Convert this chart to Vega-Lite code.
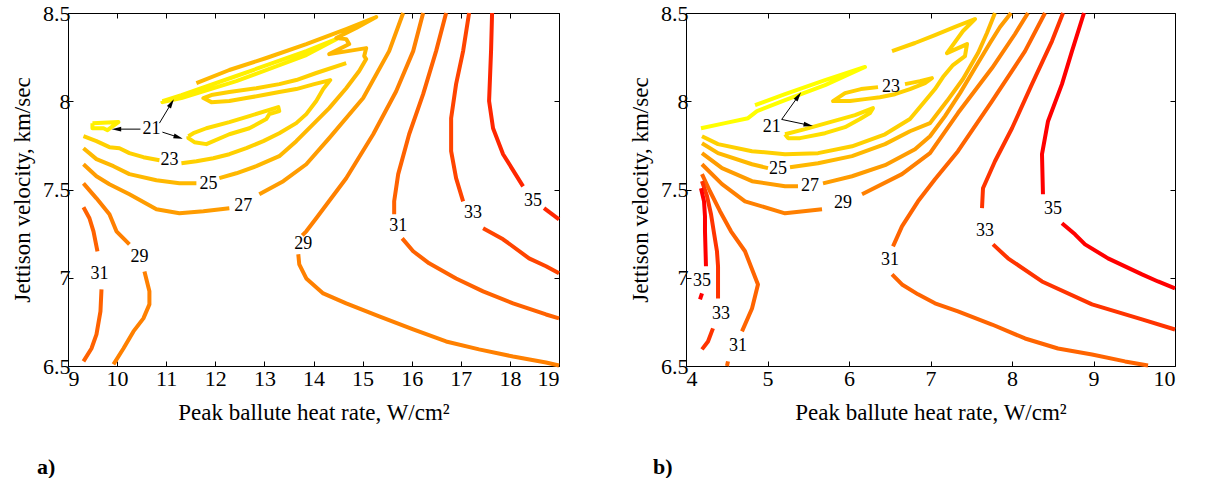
{
"$schema":"https://vega.github.io/schema/vega-lite/v6.json",
"background":"white",
"padding":{"left":11,"top":1,"right":0,"bottom":0},
"spacing":67,
"config":{
 "font":"Liberation Serif",
 "view":{"stroke":"black","strokeWidth":1},
 "axis":{"grid":false,"domain":false,"labelFont":"Liberation Serif","labelFontSize":22,"labelColor":"black","tickColor":"black","tickSize":-5,"tickWidth":1,"titleFont":"Liberation Serif","titleFontSize":23,"titleFontWeight":"normal","titleColor":"black"},
 "axisX":{"labelPadding":7.5,"titlePadding":12},
 "axisY":{"labelPadding":3,"titlePadding":8},
 "title":{"font":"Liberation Serif","fontSize":22,"fontWeight":"bold","color":"black"}
},
"datasets":{
"la":[
{"s":"a21s","l":21,"x":9.498,"y":7.876},{"s":"a21s","l":21,"x":10.027,"y":7.882},{"s":"a21s","l":21,"x":9.885,"y":7.853},{"s":"a21s","l":21,"x":9.804,"y":7.836},{"s":"a21s","l":21,"x":9.722,"y":7.847},{"s":"a21s","l":21,"x":9.498,"y":7.847},{"s":"a21s","l":21,"x":9.498,"y":7.876},
{"s":"a21l","l":21,"x":10.923,"y":8.001},{"s":"a21l","l":21,"x":11.31,"y":8.035},{"s":"a21l","l":21,"x":12.428,"y":8.143},{"s":"a21l","l":21,"x":13.853,"y":8.284},{"s":"a21l","l":21,"x":14.463,"y":8.352},{"s":"a21l","l":21,"x":13.853,"y":8.262},{"s":"a21l","l":21,"x":12.428,"y":8.114},{"s":"a21l","l":21,"x":11.31,"y":8.018},{"s":"a21l","l":21,"x":10.923,"y":7.995},{"s":"a21l","l":21,"x":10.923,"y":8.001},
{"s":"a22","l":22,"x":11.452,"y":7.802},{"s":"a22","l":22,"x":11.554,"y":7.819},{"s":"a22","l":22,"x":11.818,"y":7.847},{"s":"a22","l":22,"x":12.286,"y":7.882},{"s":"a22","l":22,"x":12.693,"y":7.916},{"s":"a22","l":22,"x":13.283,"y":7.967},{"s":"a22","l":22,"x":13.303,"y":7.944},{"s":"a22","l":22,"x":13.1,"y":7.927},{"s":"a22","l":22,"x":13.039,"y":7.899},{"s":"a22","l":22,"x":12.693,"y":7.847},{"s":"a22","l":22,"x":12.286,"y":7.813},{"s":"a22","l":22,"x":11.818,"y":7.757},{"s":"a22","l":22,"x":11.574,"y":7.768},{"s":"a22","l":22,"x":11.452,"y":7.791},{"s":"a22","l":22,"x":11.452,"y":7.802},
{"s":"a23a","l":23,"x":9.315,"y":7.802},{"s":"a23a","l":23,"x":9.58,"y":7.774},{"s":"a23a","l":23,"x":9.844,"y":7.74},{"s":"a23a","l":23,"x":10.048,"y":7.734},{"s":"a23a","l":23,"x":10.251,"y":7.706},{"s":"a23a","l":23,"x":10.536,"y":7.683},{"s":"a23a","l":23,"x":10.862,"y":7.666},
{"s":"a23b","l":23,"x":11.31,"y":7.649},{"s":"a23b","l":23,"x":11.615,"y":7.66},{"s":"a23b","l":23,"x":11.96,"y":7.677},{"s":"a23b","l":23,"x":12.286,"y":7.7},{"s":"a23b","l":23,"x":12.632,"y":7.734},{"s":"a23b","l":23,"x":12.978,"y":7.774},{"s":"a23b","l":23,"x":13.303,"y":7.819},{"s":"a23b","l":23,"x":13.649,"y":7.876},{"s":"a23b","l":23,"x":13.853,"y":7.927},{"s":"a23b","l":23,"x":14.056,"y":8.001},{"s":"a23b","l":23,"x":14.198,"y":8.069},{"s":"a23b","l":23,"x":14.34,"y":8.12},{"s":"a23b","l":23,"x":14.015,"y":8.097},{"s":"a23b","l":23,"x":13.649,"y":8.069},{"s":"a23b","l":23,"x":13.303,"y":8.052},{"s":"a23b","l":23,"x":12.978,"y":8.035},{"s":"a23b","l":23,"x":12.632,"y":8.018},{"s":"a23b","l":23,"x":12.286,"y":8.001},{"s":"a23b","l":23,"x":11.92,"y":7.995},{"s":"a23b","l":23,"x":11.757,"y":8.018},{"s":"a23b","l":23,"x":11.92,"y":8.035},{"s":"a23b","l":23,"x":12.286,"y":8.052},{"s":"a23b","l":23,"x":12.835,"y":8.074},{"s":"a23b","l":23,"x":13.303,"y":8.097},{"s":"a23b","l":23,"x":13.649,"y":8.12},{"s":"a23b","l":23,"x":14.056,"y":8.16},{"s":"a23b","l":23,"x":14.666,"y":8.216},
{"s":"a25a","l":25,"x":9.315,"y":7.734},{"s":"a25a","l":25,"x":9.58,"y":7.672},{"s":"a25a","l":25,"x":9.926,"y":7.632},{"s":"a25a","l":25,"x":10.251,"y":7.587},{"s":"a25a","l":25,"x":10.801,"y":7.552},{"s":"a25a","l":25,"x":11.269,"y":7.535},{"s":"a25a","l":25,"x":11.615,"y":7.535},
{"s":"a25b","l":25,"x":12.082,"y":7.564},{"s":"a25b","l":25,"x":12.428,"y":7.592},{"s":"a25b","l":25,"x":12.835,"y":7.632},{"s":"a25b","l":25,"x":13.303,"y":7.689},{"s":"a25b","l":25,"x":13.649,"y":7.774},{"s":"a25b","l":25,"x":13.995,"y":7.87},{"s":"a25b","l":25,"x":14.32,"y":7.961},{"s":"a25b","l":25,"x":14.666,"y":8.074},{"s":"a25b","l":25,"x":14.931,"y":8.171},{"s":"a25b","l":25,"x":15.073,"y":8.239},{"s":"a25b","l":25,"x":15.033,"y":8.256},{"s":"a25b","l":25,"x":15.073,"y":8.301},{"s":"a25b","l":25,"x":14.32,"y":8.267},{"s":"a25b","l":25,"x":14.727,"y":8.324},{"s":"a25b","l":25,"x":14.666,"y":8.352},{"s":"a25b","l":25,"x":14.463,"y":8.358},{"s":"a25b","l":25,"x":14.87,"y":8.415},{"s":"a25b","l":25,"x":15.277,"y":8.477},{"s":"a25b","l":25,"x":14.666,"y":8.409},{"s":"a25b","l":25,"x":13.853,"y":8.324},{"s":"a25b","l":25,"x":13.039,"y":8.245},{"s":"a25b","l":25,"x":12.286,"y":8.177},{"s":"a25b","l":25,"x":11.615,"y":8.103},
{"s":"a27a","l":27,"x":9.315,"y":7.643},{"s":"a27a","l":27,"x":9.58,"y":7.575},{"s":"a27a","l":27,"x":9.844,"y":7.53},{"s":"a27a","l":27,"x":10.251,"y":7.473},{"s":"a27a","l":27,"x":10.801,"y":7.388},{"s":"a27a","l":27,"x":11.269,"y":7.365},{"s":"a27a","l":27,"x":11.757,"y":7.377},{"s":"a27a","l":27,"x":12.286,"y":7.394},
{"s":"a27b","l":27,"x":12.896,"y":7.473},{"s":"a27b","l":27,"x":13.385,"y":7.547},{"s":"a27b","l":27,"x":13.853,"y":7.643},{"s":"a27b","l":27,"x":14.32,"y":7.791},{"s":"a27b","l":27,"x":15.012,"y":8.018},{"s":"a27b","l":27,"x":15.541,"y":8.284},{"s":"a27b","l":27,"x":15.826,"y":8.5},
{"s":"a29La","l":29,"x":9.315,"y":7.535},{"s":"a29La","l":29,"x":9.58,"y":7.45},{"s":"a29La","l":29,"x":9.844,"y":7.36},{"s":"a29La","l":29,"x":9.987,"y":7.263},{"s":"a29La","l":29,"x":10.251,"y":7.189},
{"s":"a29Lb","l":29,"x":10.557,"y":7.036},{"s":"a29Lb","l":29,"x":10.658,"y":6.923},{"s":"a29Lb","l":29,"x":10.658,"y":6.849},{"s":"a29Lb","l":29,"x":10.536,"y":6.77},{"s":"a29Lb","l":29,"x":10.333,"y":6.696},{"s":"a29Lb","l":29,"x":10.129,"y":6.599},{"s":"a29Lb","l":29,"x":9.926,"y":6.509},
{"s":"a31La","l":31,"x":9.315,"y":7.399},{"s":"a31La","l":31,"x":9.437,"y":7.337},{"s":"a31La","l":31,"x":9.519,"y":7.263},{"s":"a31La","l":31,"x":9.6,"y":7.15},
{"s":"a31Lb","l":31,"x":9.682,"y":6.934},{"s":"a31Lb","l":31,"x":9.661,"y":6.809},{"s":"a31Lb","l":31,"x":9.58,"y":6.679},{"s":"a31Lb","l":31,"x":9.478,"y":6.599},{"s":"a31Lb","l":31,"x":9.315,"y":6.526},
{"s":"a29Ra","l":29,"x":16.233,"y":8.5},{"s":"a29Ra","l":29,"x":16.03,"y":8.284},{"s":"a29Ra","l":29,"x":15.684,"y":8.057},{"s":"a29Ra","l":29,"x":15.216,"y":7.813},{"s":"a29Ra","l":29,"x":14.666,"y":7.564},{"s":"a29Ra","l":29,"x":14.056,"y":7.337},{"s":"a29Ra","l":29,"x":13.853,"y":7.263},{"s":"a29Ra","l":29,"x":13.771,"y":7.24},
{"s":"a29Rb","l":29,"x":13.69,"y":7.133},{"s":"a29Rb","l":29,"x":13.71,"y":7.076},{"s":"a29Rb","l":29,"x":13.853,"y":6.996},{"s":"a29Rb","l":29,"x":14.198,"y":6.911},{"s":"a29Rb","l":29,"x":14.666,"y":6.855},{"s":"a29Rb","l":29,"x":15.338,"y":6.781},{"s":"a29Rb","l":29,"x":16.03,"y":6.707},{"s":"a29Rb","l":29,"x":16.701,"y":6.639},{"s":"a29Rb","l":29,"x":17.372,"y":6.594},{"s":"a29Rb","l":29,"x":18.064,"y":6.554},{"s":"a29Rb","l":29,"x":18.736,"y":6.52},{"s":"a29Rb","l":29,"x":19.0,"y":6.503},
{"s":"a31Ra","l":31,"x":16.701,"y":8.5},{"s":"a31Ra","l":31,"x":16.497,"y":8.284},{"s":"a31Ra","l":31,"x":16.233,"y":8.04},{"s":"a31Ra","l":31,"x":15.948,"y":7.813},{"s":"a31Ra","l":31,"x":15.725,"y":7.587},{"s":"a31Ra","l":31,"x":15.643,"y":7.433},{"s":"a31Ra","l":31,"x":15.643,"y":7.36},
{"s":"a31Rb","l":31,"x":15.806,"y":7.223},{"s":"a31Rb","l":31,"x":16.03,"y":7.15},{"s":"a31Rb","l":31,"x":16.355,"y":7.082},{"s":"a31Rb","l":31,"x":16.904,"y":6.996},{"s":"a31Rb","l":31,"x":17.454,"y":6.923},{"s":"a31Rb","l":31,"x":18.064,"y":6.855},{"s":"a31Rb","l":31,"x":18.736,"y":6.792},{"s":"a31Rb","l":31,"x":19.0,"y":6.77},
{"s":"a33a","l":33,"x":17.169,"y":8.5},{"s":"a33a","l":33,"x":17.047,"y":8.284},{"s":"a33a","l":33,"x":16.904,"y":8.097},{"s":"a33a","l":33,"x":16.803,"y":7.904},{"s":"a33a","l":33,"x":16.803,"y":7.717},{"s":"a33a","l":33,"x":16.904,"y":7.564},{"s":"a33a","l":33,"x":17.047,"y":7.433},
{"s":"a33b","l":33,"x":17.454,"y":7.28},{"s":"a33b","l":33,"x":17.861,"y":7.218},{"s":"a33b","l":33,"x":18.39,"y":7.11},{"s":"a33b","l":33,"x":18.736,"y":7.065},{"s":"a33b","l":33,"x":19.0,"y":7.025},
{"s":"a35a","l":35,"x":17.637,"y":8.5},{"s":"a35a","l":35,"x":17.616,"y":8.284},{"s":"a35a","l":35,"x":17.576,"y":8.001},{"s":"a35a","l":35,"x":17.657,"y":7.847},{"s":"a35a","l":35,"x":17.861,"y":7.7},{"s":"a35a","l":35,"x":18.268,"y":7.518},
{"s":"a35b","l":35,"x":18.695,"y":7.394},{"s":"a35b","l":35,"x":19.0,"y":7.331}
],
"ta":[
{"x":10.699,"y":7.842,"t":"21"},{"x":11.065,"y":7.666,"t":"23"},{"x":11.859,"y":7.53,"t":"25"},{"x":12.571,"y":7.405,"t":"27"},{"x":10.455,"y":7.116,"t":"29"},{"x":9.641,"y":7.019,"t":"31"},{"x":13.791,"y":7.189,"t":"29"},{"x":15.725,"y":7.291,"t":"31"},{"x":17.25,"y":7.365,"t":"33"},{"x":18.471,"y":7.433,"t":"35"}
],
"aa":[
{"x":10.475,"y":7.842,"x2":9.987,"y2":7.842,"dir":270},{"x":10.862,"y":7.876,"x2":11.106,"y2":7.989,"dir":31},{"x":10.923,"y":7.825,"x2":11.248,"y2":7.796,"dir":107}
],
"lb":[
{"s":"b21","l":21,"x":4.184,"y":7.847},{"s":"b21","l":21,"x":4.479,"y":7.876},{"s":"b21","l":21,"x":4.761,"y":7.904},{"s":"b21","l":21,"x":4.871,"y":7.944},{"s":"b21","l":21,"x":5.215,"y":8.006},{"s":"b21","l":21,"x":5.706,"y":8.091},{"s":"b21","l":21,"x":6.196,"y":8.194},{"s":"b21","l":21,"x":5.706,"y":8.12},{"s":"b21","l":21,"x":5.215,"y":8.04},{"s":"b21","l":21,"x":4.847,"y":7.978},
{"s":"b22","l":22,"x":5.215,"y":7.813},{"s":"b22","l":22,"x":5.46,"y":7.842},{"s":"b22","l":22,"x":5.767,"y":7.882},{"s":"b22","l":22,"x":6.074,"y":7.921},{"s":"b22","l":22,"x":6.294,"y":7.961},{"s":"b22","l":22,"x":6.258,"y":7.933},{"s":"b22","l":22,"x":6.135,"y":7.899},{"s":"b22","l":22,"x":5.951,"y":7.853},{"s":"b22","l":22,"x":5.706,"y":7.819},{"s":"b22","l":22,"x":5.399,"y":7.791},{"s":"b22","l":22,"x":5.252,"y":7.791},{"s":"b22","l":22,"x":5.215,"y":7.813},
{"s":"b23m","l":23,"x":4.196,"y":7.802},{"s":"b23m","l":23,"x":4.393,"y":7.757},{"s":"b23m","l":23,"x":4.81,"y":7.717},{"s":"b23m","l":23,"x":5.215,"y":7.7},{"s":"b23m","l":23,"x":5.62,"y":7.706},{"s":"b23m","l":23,"x":6.037,"y":7.745},{"s":"b23m","l":23,"x":6.442,"y":7.813},{"s":"b23m","l":23,"x":6.748,"y":7.899},{"s":"b23m","l":23,"x":6.933,"y":8.001},{"s":"b23m","l":23,"x":7.055,"y":8.069},{"s":"b23m","l":23,"x":7.153,"y":8.137},{"s":"b23m","l":23,"x":7.276,"y":8.205},{"s":"b23m","l":23,"x":7.423,"y":8.256},{"s":"b23m","l":23,"x":7.448,"y":8.324},{"s":"b23m","l":23,"x":7.202,"y":8.273},{"s":"b23m","l":23,"x":7.399,"y":8.398},{"s":"b23m","l":23,"x":7.546,"y":8.466},{"s":"b23m","l":23,"x":7.301,"y":8.421},{"s":"b23m","l":23,"x":7.055,"y":8.375},{"s":"b23m","l":23,"x":6.81,"y":8.33},{"s":"b23m","l":23,"x":6.528,"y":8.284},
{"s":"b23l","l":23,"x":6.356,"y":8.08},{"s":"b23l","l":23,"x":6.147,"y":8.069},{"s":"b23l","l":23,"x":5.951,"y":8.046},{"s":"b23l","l":23,"x":5.804,"y":8.001},{"s":"b23l","l":23,"x":6.012,"y":8.001},{"s":"b23l","l":23,"x":6.196,"y":8.012},{"s":"b23l","l":23,"x":6.38,"y":8.023},{"s":"b23l","l":23,"x":6.564,"y":8.04},{"s":"b23l","l":23,"x":6.748,"y":8.069},{"s":"b23l","l":23,"x":6.933,"y":8.103},{"s":"b23l","l":23,"x":7.018,"y":8.131},{"s":"b23l","l":23,"x":6.871,"y":8.114},{"s":"b23l","l":23,"x":6.687,"y":8.097},
{"s":"b25a","l":25,"x":4.196,"y":7.762},{"s":"b25a","l":25,"x":4.393,"y":7.706},{"s":"b25a","l":25,"x":4.81,"y":7.643},{"s":"b25a","l":25,"x":5.006,"y":7.621},
{"s":"b25b","l":25,"x":5.276,"y":7.626},{"s":"b25b","l":25,"x":5.62,"y":7.649},{"s":"b25b","l":25,"x":6.037,"y":7.689},{"s":"b25b","l":25,"x":6.442,"y":7.757},{"s":"b25b","l":25,"x":6.748,"y":7.83},{"s":"b25b","l":25,"x":6.994,"y":7.876},{"s":"b25b","l":25,"x":7.202,"y":8.001},{"s":"b25b","l":25,"x":7.399,"y":8.126},{"s":"b25b","l":25,"x":7.583,"y":8.273},{"s":"b25b","l":25,"x":7.693,"y":8.387},{"s":"b25b","l":25,"x":7.791,"y":8.5},
{"s":"b27a","l":27,"x":4.196,"y":7.706},{"s":"b27a","l":27,"x":4.442,"y":7.621},{"s":"b27a","l":27,"x":4.81,"y":7.547},{"s":"b27a","l":27,"x":5.215,"y":7.518},{"s":"b27a","l":27,"x":5.374,"y":7.518},
{"s":"b27b","l":27,"x":5.681,"y":7.535},{"s":"b27b","l":27,"x":6.037,"y":7.575},{"s":"b27b","l":27,"x":6.442,"y":7.638},{"s":"b27b","l":27,"x":6.81,"y":7.728},{"s":"b27b","l":27,"x":6.994,"y":7.802},{"s":"b27b","l":27,"x":7.178,"y":7.916},{"s":"b27b","l":27,"x":7.362,"y":8.046},{"s":"b27b","l":27,"x":7.546,"y":8.188},{"s":"b27b","l":27,"x":7.73,"y":8.33},{"s":"b27b","l":27,"x":7.853,"y":8.421},{"s":"b27b","l":27,"x":7.988,"y":8.5},
{"s":"b29a","l":29,"x":4.196,"y":7.643},{"s":"b29a","l":29,"x":4.442,"y":7.53},{"s":"b29a","l":29,"x":4.724,"y":7.433},{"s":"b29a","l":29,"x":5.215,"y":7.365},{"s":"b29a","l":29,"x":5.669,"y":7.388},
{"s":"b29b","l":29,"x":6.16,"y":7.473},{"s":"b29b","l":29,"x":6.65,"y":7.587},{"s":"b29b","l":29,"x":6.994,"y":7.706},{"s":"b29b","l":29,"x":7.337,"y":7.933},{"s":"b29b","l":29,"x":7.755,"y":8.188},{"s":"b29b","l":29,"x":8.037,"y":8.381},{"s":"b29b","l":29,"x":8.196,"y":8.5},
{"s":"b31La","l":31,"x":4.196,"y":7.587},{"s":"b31La","l":31,"x":4.294,"y":7.49},{"s":"b31La","l":31,"x":4.417,"y":7.377},{"s":"b31La","l":31,"x":4.552,"y":7.263},{"s":"b31La","l":31,"x":4.724,"y":7.15},{"s":"b31La","l":31,"x":4.883,"y":6.962},{"s":"b31La","l":31,"x":4.81,"y":6.826},{"s":"b31La","l":31,"x":4.687,"y":6.696},
{"s":"b31Lb","l":31,"x":4.515,"y":6.526},{"s":"b31Lb","l":31,"x":4.503,"y":6.5},
{"s":"b31Ra","l":31,"x":8.405,"y":8.5},{"s":"b31Ra","l":31,"x":8.16,"y":8.284},{"s":"b31Ra","l":31,"x":7.755,"y":8.001},{"s":"b31Ra","l":31,"x":7.337,"y":7.717},{"s":"b31Ra","l":31,"x":7.055,"y":7.558},{"s":"b31Ra","l":31,"x":6.847,"y":7.433},{"s":"b31Ra","l":31,"x":6.65,"y":7.291},{"s":"b31Ra","l":31,"x":6.54,"y":7.178},
{"s":"b31Rb","l":31,"x":6.528,"y":7.019},{"s":"b31Rb","l":31,"x":6.65,"y":6.962},{"s":"b31Rb","l":31,"x":6.847,"y":6.906},{"s":"b31Rb","l":31,"x":7.055,"y":6.855},{"s":"b31Rb","l":31,"x":7.337,"y":6.809},{"s":"b31Rb","l":31,"x":7.755,"y":6.735},{"s":"b31Rb","l":31,"x":8.16,"y":6.656},{"s":"b31Rb","l":31,"x":8.564,"y":6.599},{"s":"b31Rb","l":31,"x":8.982,"y":6.565},{"s":"b31Rb","l":31,"x":9.387,"y":6.526},{"s":"b31Rb","l":31,"x":9.669,"y":6.503},
{"s":"b33La","l":33,"x":4.196,"y":7.547},{"s":"b33La","l":33,"x":4.258,"y":7.462},{"s":"b33La","l":33,"x":4.307,"y":7.36},{"s":"b33La","l":33,"x":4.344,"y":7.252},{"s":"b33La","l":33,"x":4.38,"y":7.15},{"s":"b33La","l":33,"x":4.393,"y":7.065},{"s":"b33La","l":33,"x":4.393,"y":6.883},
{"s":"b33Lb","l":33,"x":4.331,"y":6.713},{"s":"b33Lb","l":33,"x":4.27,"y":6.639},{"s":"b33Lb","l":33,"x":4.196,"y":6.594},
{"s":"b33Ra","l":33,"x":8.626,"y":8.5},{"s":"b33Ra","l":33,"x":8.491,"y":8.341},{"s":"b33Ra","l":33,"x":8.245,"y":8.097},{"s":"b33Ra","l":33,"x":8.0,"y":7.847},{"s":"b33Ra","l":33,"x":7.791,"y":7.66},{"s":"b33Ra","l":33,"x":7.644,"y":7.507},{"s":"b33Ra","l":33,"x":7.632,"y":7.394},
{"s":"b33Rb","l":33,"x":7.767,"y":7.189},{"s":"b33Rb","l":33,"x":7.951,"y":7.11},{"s":"b33Rb","l":33,"x":8.368,"y":6.979},{"s":"b33Rb","l":33,"x":8.982,"y":6.849},{"s":"b33Rb","l":33,"x":9.595,"y":6.764},{"s":"b33Rb","l":33,"x":10.0,"y":6.707},
{"s":"b35La","l":35,"x":4.184,"y":7.507},{"s":"b35La","l":35,"x":4.221,"y":7.433},{"s":"b35La","l":35,"x":4.233,"y":7.348},{"s":"b35La","l":35,"x":4.233,"y":7.263},{"s":"b35La","l":35,"x":4.245,"y":7.065},
{"s":"b35Lb","l":35,"x":4.196,"y":6.911},{"s":"b35Lb","l":35,"x":4.172,"y":6.877},
{"s":"b35Ra","l":35,"x":8.883,"y":8.5},{"s":"b35Ra","l":35,"x":8.736,"y":8.284},{"s":"b35Ra","l":35,"x":8.613,"y":8.097},{"s":"b35Ra","l":35,"x":8.442,"y":7.887},{"s":"b35Ra","l":35,"x":8.368,"y":7.7},{"s":"b35Ra","l":35,"x":8.38,"y":7.473},
{"s":"b35Rb","l":35,"x":8.613,"y":7.309},{"s":"b35Rb","l":35,"x":8.773,"y":7.246},{"s":"b35Rb","l":35,"x":8.896,"y":7.189},{"s":"b35Rb","l":35,"x":9.178,"y":7.11},{"s":"b35Rb","l":35,"x":9.595,"y":7.019},{"s":"b35Rb","l":35,"x":9.791,"y":6.979},{"s":"b35Rb","l":35,"x":10.0,"y":6.94}
],
"tb":[
{"x":5.051,"y":7.853,"t":"21"},{"x":6.515,"y":8.08,"t":"23"},{"x":5.129,"y":7.615,"t":"25"},{"x":5.521,"y":7.518,"t":"27"},{"x":5.926,"y":7.422,"t":"29"},{"x":6.503,"y":7.099,"t":"31"},{"x":7.669,"y":7.263,"t":"33"},{"x":8.503,"y":7.388,"t":"35"},{"x":4.196,"y":6.979,"t":"35"},{"x":4.429,"y":6.792,"t":"33"},{"x":4.638,"y":6.611,"t":"31"}
],
"ab":[
{"x":5.174,"y":7.897,"x2":5.378,"y2":8.029,"dir":35},{"x":5.174,"y":7.897,"x2":5.501,"y2":7.865,"dir":102}
]
},
"resolve":{"scale":{"color":"independent"}},
"hconcat":[
{
 "width":491,"height":353,
 "title":{"text":"a)","orient":"bottom","anchor":"start","frame":"group","dx":-31,"offset":32},
 "resolve":{"axis":{"x":"independent","y":"independent"}},
 "layer":[
  {"data":{"name":"la"},"mark":{"type":"line","strokeWidth":4,"strokeJoin":"round"},
   "encoding":{
    "x":{"field":"x","type":"quantitative","scale":{"domain":[9,19],"nice":false,"zero":false},"axis":{"title":"Peak ballute heat rate, W/cm²","values":[9,10,11,12,13,14,15,16,17,18,19],"format":"d"}},
    "y":{"field":"y","type":"quantitative","scale":{"domain":[6.5,8.5],"nice":false,"zero":false},"axis":{"title":"Jettison velocity, km/sec","values":[6.5,7,7.5,8,8.5],"format":"~g"}},
    "color":{"field":"l","type":"ordinal","scale":{"domain":[21,22,23,25,27,29,31,33,35],"range":["#FFF000","#FFDC00","#FFD000","#FFB800","#FF9C00","#FF8000","#FF6200","#FF4400","#FF2600"]},"legend":null},
    "detail":{"field":"s","type":"nominal"},
    "order":{"value":null}
   }},
  {"data":{"name":"ta"},"mark":{"type":"text","font":"Liberation Serif","fontSize":18,"color":"black","align":"center","baseline":"middle"},
   "encoding":{
    "x":{"field":"x","type":"quantitative","scale":{"domain":[9,19],"nice":false,"zero":false},"axis":null},
    "y":{"field":"y","type":"quantitative","scale":{"domain":[6.5,8.5],"nice":false,"zero":false},"axis":null},
    "text":{"field":"t","type":"nominal"}
   }},
  {"data":{"name":"aa"},"mark":{"type":"rule","color":"black","strokeWidth":1},
   "encoding":{
    "x":{"field":"x","type":"quantitative","scale":{"domain":[9,19],"nice":false,"zero":false},"axis":null},
    "y":{"field":"y","type":"quantitative","scale":{"domain":[6.5,8.5],"nice":false,"zero":false},"axis":null},
    "x2":{"field":"x2"},"y2":{"field":"y2"}
   }},
  {"data":{"name":"aa"},"mark":{"type":"point","shape":"M0,-1L0.5,1L-0.5,1Z","filled":true,"color":"black","size":90,"opacity":1},
   "encoding":{
    "x":{"field":"x2","type":"quantitative","scale":{"domain":[9,19],"nice":false,"zero":false},"axis":null},
    "y":{"field":"y2","type":"quantitative","scale":{"domain":[6.5,8.5],"nice":false,"zero":false},"axis":null},
    "angle":{"field":"dir","type":"quantitative","scale":{"domain":[0,360],"range":[0,360]},"legend":null}
   }},
  {"data":{"name":"ta"},"mark":{"type":"point","opacity":0},
   "encoding":{
    "x":{"field":"x","type":"quantitative","scale":{"domain":[9,19],"nice":false,"zero":false},"axis":{"orient":"top","labels":false,"title":null,"values":[9,10,11,12,13,14,15,16,17,18,19]}},
    "y":{"field":"y","type":"quantitative","scale":{"domain":[6.5,8.5],"nice":false,"zero":false},"axis":{"orient":"right","labels":false,"title":null,"values":[6.5,7,7.5,8,8.5]}}
   }}
 ]
},
{
 "width":489,"height":353,
 "title":{"text":"b)","orient":"bottom","anchor":"start","frame":"group","dx":-33,"offset":32},
 "resolve":{"axis":{"x":"independent","y":"independent"}},
 "layer":[
  {"data":{"name":"lb"},"mark":{"type":"line","strokeWidth":4,"strokeJoin":"round"},
   "encoding":{
    "x":{"field":"x","type":"quantitative","scale":{"domain":[4,10],"nice":false,"zero":false},"axis":{"title":"Peak ballute heat rate, W/cm²","values":[4,5,6,7,8,9,10],"format":"d"}},
    "y":{"field":"y","type":"quantitative","scale":{"domain":[6.5,8.5],"nice":false,"zero":false},"axis":{"title":"Jettison velocity, km/sec","values":[6.5,7,7.5,8,8.5],"format":"~g"}},
    "color":{"field":"l","type":"ordinal","scale":{"domain":[21,22,23,25,27,29,31,33,35],"range":["#FFFF00","#FFE000","#FFD000","#FFB800","#FF9C00","#FF8000","#FF6400","#FF3400","#FF0000"]},"legend":null},
    "detail":{"field":"s","type":"nominal"},
    "order":{"value":null}
   }},
  {"data":{"name":"tb"},"mark":{"type":"text","font":"Liberation Serif","fontSize":18,"color":"black","align":"center","baseline":"middle"},
   "encoding":{
    "x":{"field":"x","type":"quantitative","scale":{"domain":[4,10],"nice":false,"zero":false},"axis":null},
    "y":{"field":"y","type":"quantitative","scale":{"domain":[6.5,8.5],"nice":false,"zero":false},"axis":null},
    "text":{"field":"t","type":"nominal"}
   }},
  {"data":{"name":"ab"},"mark":{"type":"rule","color":"black","strokeWidth":1},
   "encoding":{
    "x":{"field":"x","type":"quantitative","scale":{"domain":[4,10],"nice":false,"zero":false},"axis":null},
    "y":{"field":"y","type":"quantitative","scale":{"domain":[6.5,8.5],"nice":false,"zero":false},"axis":null},
    "x2":{"field":"x2"},"y2":{"field":"y2"}
   }},
  {"data":{"name":"ab"},"mark":{"type":"point","shape":"M0,-1L0.5,1L-0.5,1Z","filled":true,"color":"black","size":90,"opacity":1},
   "encoding":{
    "x":{"field":"x2","type":"quantitative","scale":{"domain":[4,10],"nice":false,"zero":false},"axis":null},
    "y":{"field":"y2","type":"quantitative","scale":{"domain":[6.5,8.5],"nice":false,"zero":false},"axis":null},
    "angle":{"field":"dir","type":"quantitative","scale":{"domain":[0,360],"range":[0,360]},"legend":null}
   }},
  {"data":{"name":"tb"},"mark":{"type":"point","opacity":0},
   "encoding":{
    "x":{"field":"x","type":"quantitative","scale":{"domain":[4,10],"nice":false,"zero":false},"axis":{"orient":"top","labels":false,"title":null,"values":[4,5,6,7,8,9,10]}},
    "y":{"field":"y","type":"quantitative","scale":{"domain":[6.5,8.5],"nice":false,"zero":false},"axis":{"orient":"right","labels":false,"title":null,"values":[6.5,7,7.5,8,8.5]}}
   }}
 ]
}
]
}
